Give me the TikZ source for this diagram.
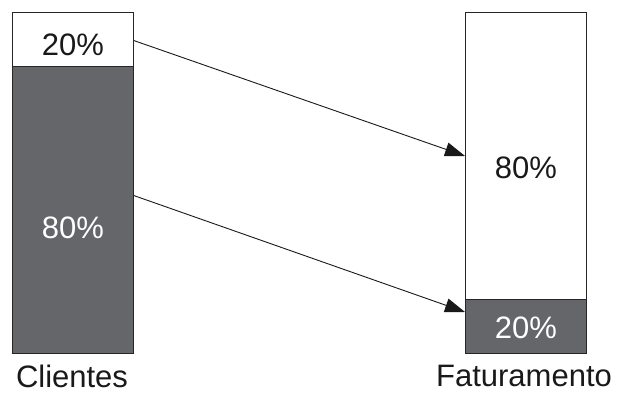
\documentclass[tikz,border=0pt]{standalone}
\usepackage{fontspec}
\setmainfont{Liberation Sans}
\usepackage{tikz}
\usetikzlibrary{arrows.meta, positioning, calc}
\definecolor{barGray}{RGB}{101,102,106}

\begin{document}
\begin{tikzpicture}[
    x=1pt, y=-1pt,
    every node/.style={font=\fontsize{31}{36}\selectfont, inner sep=0pt},
    part/.style={rectangle, draw=black!85, line width=1pt, anchor=north west},
    light/.style={part, fill=white},
    dark/.style={part, fill=barGray},
    pct/.style={text=black!90},
    pctw/.style={text=white},
    flow/.style={-{Triangle[length=20pt, width=14pt]}, line width=0.9pt, black!90},
    caption/.style={text=black!90, anchor=base}
]
\useasboundingbox (0,0) rectangle (617,393);

% Barra de clientes
\node[light, minimum width=121pt, minimum height=54pt] (c20) at (12,12) {};
\node[dark, minimum width=121pt, minimum height=287pt] (c80) at (12,66) {};
\node[pct] (c20t) at ([yshift=-5pt]c20.center) {20\%};
\node[pctw] (c80t) at ([yshift=-18pt]c80.center) {80\%};
\node[caption] (cli) at (72,387) {Clientes};

% Barra de faturamento
\node[light, minimum width=121pt, minimum height=287pt] (f80) at (465,12) {};
\node[dark, minimum width=121pt, minimum height=54pt] (f20) at (465,299) {};
\node[pct] (f80t) at ([yshift=-12pt]f80.center) {80\%};
\node[pctw] (f20t) at ([yshift=-1pt]f20.center) {20\%};
\node[caption] (fat) at (524,386) {Faturamento};

% Setas
\draw[flow] ($(c20.north east)!0.52!(c20.south east)$) -- ($(f80.north west)!0.50!(f80.south west)$);
\draw[flow] ($(c80.north east)!0.45!(c80.south east)$) -- ($(f80.south west)+(0,12)$);

\end{tikzpicture}
\end{document}
